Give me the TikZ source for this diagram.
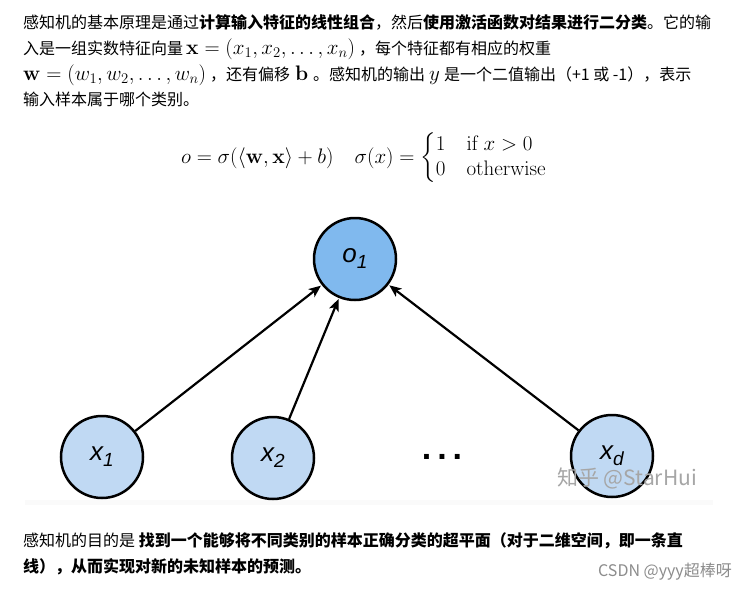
\RequirePackage{fix-cm}
\documentclass[tikz,border=0pt]{standalone}
\usepackage{amsmath}
\usepackage[no-math]{fontspec}
\setmainfont{Noto Sans CJK SC}
\newfontfamily\diagfont{Liberation Sans}
\usetikzlibrary{arrows.meta,positioning}

\definecolor{outblue}{RGB}{128,185,238}
\definecolor{inblue}{RGB}{192,217,243}

\newcommand{\unitlab}[2]{{\diagfont\itshape\fontsize{26}{26}\selectfont #1\raisebox{-6pt}{\fontsize{19}{19}\selectfont #2}}}
\newcommand{\km}[1]{{\fontsize{21}{21}\selectfont$#1$}}

\tikzset{
  textline/.style={anchor=base west, inner sep=0pt, font=\fontsize{16}{16}\selectfont},
  unit/.style={circle, draw=black, line width=2.5pt, minimum size=82pt, inner sep=0pt},
  outunit/.style={unit, fill=outblue},
  inunit/.style={unit, fill=inblue},
  conn/.style={line width=2.2pt, -{Stealth[length=12pt,width=10pt,inset=3pt]}, shorten >=1pt},
  plain/.style={anchor=center, inner sep=0pt}
}

\begin{document}
\begin{tikzpicture}[x=1pt, y=-1pt]
  \useasboundingbox (0,0) rectangle (752,592);
  \fill[white] (0,0) rectangle (752,592);

  % text above
  \node[textline] (t1) at (23,28) {感知机的基本原理是通过\textbf{计算输入特征的线性组合}，然后\textbf{使用激活函数对结果进行二分类}。它的输};
  \node[textline] (t2) at (23,54) {入是一组实数特征向量\hspace{3pt}\km{\mathbf{x}=(x_1,x_2,\ldots,x_n)}\hspace{4pt}，每个特征都有相应的权重};
  \node[textline] (t3) at (23,80) {\km{\mathbf{w}=(w_1,w_2,\ldots,w_n)}\hspace{4pt}，还有偏移\hspace{5pt}\km{\mathbf{b}}\hspace{5pt}。感知机的输出\hspace{4pt}\km{y}\hspace{4pt}是一个二值输出（+1 或 -1），表示};
  \node[textline] (t4) at (23,105) {输入样本属于哪个类别。};

  % formula
  \node[plain] (eq) at (364,158) {\fontsize{21}{21}\selectfont
    $o=\sigma(\langle\mathbf{w},\mathbf{x}\rangle+b)\quad
     \sigma(x)=\begin{cases}1 & \mathrm{if}\ x>0\\ 0 & \mathrm{otherwise}\end{cases}$};

  % faint strip under the network picture
  \fill[black!2] (25,500) rectangle (713,505);

  % network
  \node[outunit] (o1) at (355,259) {\unitlab{o}{1}};
  \node[inunit] (x1) at (102,457) {\unitlab{x}{1}};
  \node[inunit] (x2) at (273,458) {\unitlab{x}{2}};
  \node[plain] (dots) at (442,457) {\diagfont\bfseries\fontsize{34}{34}\selectfont .\hspace{6pt}.\hspace{6pt}.};
  \node[inunit] (xd) at (612,456) {\unitlab{x}{d}};

  \draw[conn] (x1) -- (o1);
  \draw[conn] (x2) -- (o1);
  \draw[conn] (xd) -- (o1);

  % watermark
  \node[plain, text=black!35, font=\fontsize{21}{21}\selectfont] (zh) at (627,478) {知乎 @StarHui};

  % text below
  \node[textline] (b1) at (23,546) {感知机的目的是 \textbf{找到一个能够将不同类别的样本正确分类的超平面（对于二维空间，即一条直}};
  \node[textline] (b2) at (23,572) {\textbf{线），从而实现对新的未知样本的预测。}};

  \node[plain, text=black!45, font=\fontsize{16}{16}\selectfont] (csdn) at (665,572) {CSDN @yyy超棒呀};
\end{tikzpicture}
\end{document}
